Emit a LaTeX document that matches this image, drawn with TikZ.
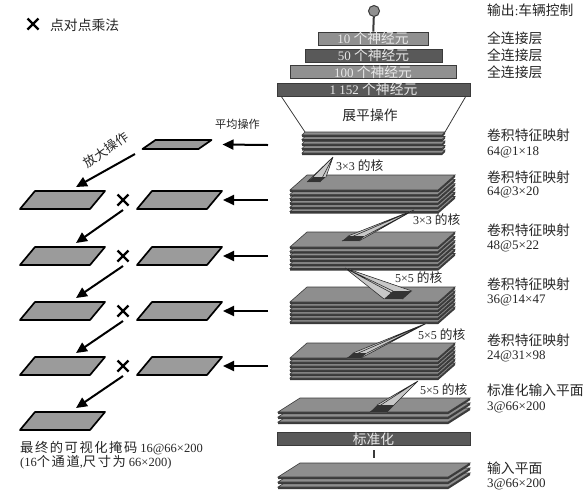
\documentclass[tikz,border=0pt]{standalone}
\usepackage{fontspec}
\setmainfont{Liberation Serif}
\newfontfamily\cjk[Scale=1.06]{Noto Sans CJK SC}
\newfontfamily\cjkw[Scale=1.06,LetterSpace=12]{Noto Sans CJK SC}
\usetikzlibrary{arrows.meta}
\definecolor{plate}{HTML}{8E8E8E}
\definecolor{edgec}{HTML}{3A3A3A}
\definecolor{darkbar}{HTML}{595959}
\definecolor{lightbar}{HTML}{909090}
\definecolor{maskfill}{HTML}{9B9B9B}
\definecolor{ink}{HTML}{262626}
\definecolor{fanc}{HTML}{C8C8C8}
\definecolor{bartext}{HTML}{E8E8E8}
\newcommand\zh[1]{{\cjk #1}}
\newcommand\platestack[8]{%
  \pgfmathtruncatemacro\nlast{#7-1}%
  \foreach \i in {\nlast,...,0}{%
    \pgfmathsetmacro\yt{#3+\i*#8}%
    \pgfmathsetmacro\yb{\yt+#6}%
    \fill[edgec] (#2,\yb) -- (#2+#4,\yb) -- (#2+#4+#5,\yt) -- (#2+#4+#5,\yt+2.2) -- (#2+#4,\yb+2.2) -- (#2,\yb+2.2) -- cycle;
    \filldraw[fill=plate,draw=edgec,line width=0.6] (#2,\yb) -- (#2+#5,\yt) -- (#2+#4+#5,\yt) -- (#2+#4,\yb) -- cycle;
  }%
  \coordinate (#1-tl) at (#2+#5,#3);
  \coordinate (#1-tr) at (#2+#4+#5,#3);
}
\newcommand\maskpg[6]{%
  \filldraw[fill=maskfill,draw=black,line width=1.7,line join=round]
    (#2-#4/2-#5/2,#3+#6/2) -- (#2-#4/2+#5/2,#3-#6/2) -- (#2+#4/2+#5/2,#3-#6/2) -- (#2+#4/2-#5/2,#3+#6/2) -- cycle;
  \coordinate (#1) at (#2,#3);
  \coordinate (#1-r) at (#2+#4/2+#5/2+1,#3);
  \coordinate (#1-t) at (#2+13.5,#3-13);
}
\newcommand\kfan[6]{%
  \coordinate (#1-apex) at #2;
  \coordinate (#1-p1) at #3; \coordinate (#1-p2) at #4;
  \coordinate (#1-p3) at #5; \coordinate (#1-p4) at #6;
  \fill[fanc] (#1-apex) -- (#1-p1) -- (#1-p2) -- cycle;
  \fill[fanc] (#1-apex) -- (#1-p2) -- (#1-p3) -- cycle;
  \fill[fanc] (#1-apex) -- (#1-p3) -- (#1-p4) -- cycle;
  \fill[fanc] (#1-apex) -- (#1-p4) -- (#1-p1) -- cycle;
  \draw[black!85,line width=0.55] (#1-apex) -- (#1-p1) (#1-apex) -- (#1-p2) (#1-apex) -- (#1-p3) (#1-apex) -- (#1-p4);
  \fill[black!80] (#1-p1) -- (#1-p2) -- (#1-p3) -- (#1-p4) -- cycle;
}
\newcommand\xmark[3]{%
  \coordinate (#1) at (#2,#3);
  \draw[black,line width=2.3] (#2-5.5,#3-5.5) -- (#2+5.5,#3+5.5) (#2-5.5,#3+5.5) -- (#2+5.5,#3-5.5);
}
\begin{document}
\begin{tikzpicture}[x=1pt,y=-1pt,
  lab/.style={anchor=west,inner sep=0,text=ink,font=\fontsize{13}{15}\selectfont},
  klab/.style={anchor=west,inner sep=0,text=ink,font=\fontsize{12}{14}\selectfont},
  bar/.style={draw=edgec,line width=0.8,inner sep=0,minimum height=13pt,text=bartext,font=\fontsize{13}{13}\selectfont},
  arr/.style={line width=2,-{Triangle[length=11pt,width=10pt]}}]
\fill[white] (0,0) rectangle (588,491);
\useasboundingbox (0,0) rectangle (588,491);

% output and fully connected layers
\node[circle,draw=edgec,fill=lightbar,line width=1,minimum size=11pt,inner sep=0] (out) at (374,11) {};
\node[bar,fill=lightbar,minimum width=110pt] (fc10) at (373,38.5) {10 \zh{个神经元}};
\node[bar,fill=darkbar,minimum width=137pt] (fc50) at (373.5,55.5) {50 \zh{个神经元}};
\node[bar,fill=lightbar,minimum width=166pt] (fc100) at (373,72) {100 \zh{个神经元}};
\node[bar,fill=darkbar,minimum width=193pt] (fc1152) at (373.5,89.5) {1 152 \zh{个神经元}};
\draw[edgec,line width=2] (out) -- (fc10);

% convolution stacks
\platestack{s1}{302}{132}{140}{3}{3}{5}{4.5}
\platestack{s2}{290}{175}{148}{17}{15}{6}{4.3}
\platestack{s3}{290}{232}{148}{17}{15}{6}{4.3}
\platestack{s4}{290}{287}{148}{17}{15}{6}{4.0}
\platestack{s5}{290}{343}{148}{17}{15}{6}{4.0}
\platestack{s6}{278}{398}{170}{22}{14}{3}{5}
\platestack{s7}{278}{463}{170}{22}{14}{3}{5}

% flatten
\coordinate (fl1) at (281,96);
\coordinate (fl2) at (466,96);
\draw[edgec,line width=0.8] (fl1) -- (s1-tl) (fl2) -- (s1-tr);
\node[inner sep=0,text=ink,font=\fontsize{13}{15}\selectfont] (flat) at (370,115) {\zh{展平操作}};

% normalization
\node[bar,fill=darkbar,minimum width=193pt,minimum height=12pt] (norm) at (373.5,439) {\zh{标准化}};
\coordinate (n1) at (374,450);
\coordinate (n2) at (374,458);
\draw[edgec,line width=2] (n1) -- (n2);

% kernels
\kfan{k1}{(333,157)}{(307,182)}{(313,177)}{(326,177)}{(320,182)}
\kfan{k2}{(414,210)}{(342,241)}{(348,236)}{(365,236)}{(359,241)}
\kfan{k3}{(345,268)}{(384,299)}{(393,291)}{(412,291)}{(403,299)}
\kfan{k4}{(427,323)}{(347,358)}{(353,353)}{(367,353)}{(361,358)}
\kfan{k5}{(418,381)}{(370,412)}{(377,405)}{(394,405)}{(387,412)}
\node[klab] (kl1) at (336,166) {3×3 \zh{的核}};
\node[klab] (kl2) at (413,220) {3×3 \zh{的核}};
\node[klab] (kl3) at (395,278) {5×5 \zh{的核}};
\node[klab] (kl4) at (418,335) {5×5 \zh{的核}};
\node[klab] (kl5) at (420,390) {5×5 \zh{的核}};

% right labels
\node[lab] (t0) at (487,10) {\zh{输出}:\zh{车辆控制}};
\node[lab] (t1) at (487,38) {\zh{全连接层}};
\node[lab] (t2) at (487,55) {\zh{全连接层}};
\node[lab] (t3) at (487,72) {\zh{全连接层}};
\node[lab] (c1a) at (487,135) {\zh{卷积特征映射}};
\node[lab] (c1b) at (487,152) {64@1×18};
\node[lab] (c2a) at (487,177) {\zh{卷积特征映射}};
\node[lab] (c2b) at (487,192) {64@3×20};
\node[lab] (c3a) at (487,230) {\zh{卷积特征映射}};
\node[lab] (c3b) at (487,246) {48@5×22};
\node[lab] (c4a) at (487,284) {\zh{卷积特征映射}};
\node[lab] (c4b) at (487,300) {36@14×47};
\node[lab] (c5a) at (487,340) {\zh{卷积特征映射}};
\node[lab] (c5b) at (487,356) {24@31×98};
\node[lab] (c6a) at (487,390) {\zh{标准化输入平面}};
\node[lab] (c6b) at (487,407) {3@66×200};
\node[lab] (c7a) at (487,468) {\zh{输入平面}};
\node[lab] (c7b) at (487,484) {3@66×200};

% legend
\xmark{lx}{33}{24}
\node[lab] (legend) at (50,25) {\zh{点对点乘法}};

% visual backprop masks
\maskpg{m0}{177}{144.5}{56}{13}{9}
\maskpg{r1}{179.5}{200}{70}{15}{18}
\maskpg{r2}{179.5}{256}{70}{15}{18}
\maskpg{r3}{179.5}{311}{70}{15}{18}
\maskpg{r4}{179.5}{366}{70}{15}{18}
\maskpg{l1}{62.5}{200}{70}{15}{18}
\maskpg{l2}{62.5}{256}{70}{15}{18}
\maskpg{l3}{62.5}{311}{70}{15}{18}
\maskpg{l4}{62.5}{366}{70}{15}{18}
\maskpg{l5}{62.5}{421}{70}{15}{18}
\xmark{x1}{123}{200}
\xmark{x2}{123}{256}
\xmark{x3}{123}{311}
\xmark{x4}{123}{366}

\coordinate (in0) at (268,145);
\coordinate (in1) at (268,200);
\coordinate (in2) at (268,256);
\coordinate (in3) at (268,311);
\coordinate (in4) at (268,366);
\draw[arr] (in0) -- ([xshift=10pt]m0-r);
\draw[arr] (in1) -- (r1-r);
\draw[arr] (in2) -- (r2-r);
\draw[arr] (in3) -- (r3-r);
\draw[arr] (in4) -- (r4-r);

\coordinate (d0) at (135,154);
\draw[arr] (d0) -- (l1-t);
\draw[arr] ([yshift=-10pt]x1) -- (l2-t);
\draw[arr] ([yshift=-10pt]x2) -- (l3-t);
\draw[arr] ([yshift=-10pt]x3) -- (l4-t);
\draw[arr] ([yshift=-10pt]x4) -- (l5-t);

\node[inner sep=0,text=ink,font=\fontsize{10.5}{12}\selectfont] (avg) at (237.5,124) {\zh{平均操作}};
\node[inner sep=0,text=ink,rotate=35,font=\fontsize{12}{14}\selectfont] (up) at (106,150) {\zh{放大操作}};

\node[lab,font=\fontsize{12.5}{14}\selectfont] (fin1) at (20,448) {{\cjkw 最终的可视化掩码} 16@66×200};
\node[lab,font=\fontsize{12.5}{14}\selectfont] (fin2) at (20,462) {(16{\cjkw 个通道},{\cjkw 尺寸为} 66×200)};
\end{tikzpicture}
\end{document}
